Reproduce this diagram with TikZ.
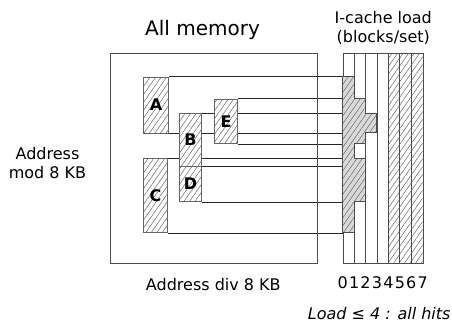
\documentclass[tikz,border=0pt]{standalone}
\usepackage{fontspec}
\setmainfont{DejaVu Sans}
\usetikzlibrary{patterns.meta,backgrounds}
\begin{document}
\begin{tikzpicture}[x=1pt,y=-1pt,
  hatch/.style={pattern={Lines[angle=55,distance=4.5pt,line width=0.5pt]},pattern color=black!60},
  blk/.style={draw=black!60, line width=0.9pt, preaction={fill=white}, hatch,
    inner sep=0pt, anchor=north west, font=\fontsize{16}{16}\selectfont\bfseries},
  link/.style={draw=black!85, line width=0.9pt},
  frame/.style={draw=black!70, line width=0.9pt},
  lbl/.style={anchor=base, inner sep=0pt, font=\fontsize{16}{19}\selectfont},
]
\useasboundingbox (0,0) rectangle (452,323);

% titles and axis labels
\node[lbl, font=\fontsize{20}{24}\selectfont] (title) at (202.5,36) {All memory};
\node[lbl] (ctitle1) at (383.3,24) {I-cache load};
\node[lbl] (ctitle2) at (383.3,42.3) {(blocks/set)};
\node[lbl] (mod1) at (47.5,160) {Address};
\node[lbl] (mod2) at (47.5,178.3) {mod 8 KB};
\node[lbl] (div) at (213.3,290) {Address div 8 KB};
\node[lbl, anchor=base east, font=\fontsize{16}{19}\selectfont\itshape] (note) at (450.7,319.5) {Load ≤ 4 : all hits};

% memory frame
\node[frame, inner sep=0pt, anchor=north west, minimum width=207.8pt, minimum height=209.4pt] (mem) at (109.5,53.3) {};

% cache load grid: 7 columns
\def\cw{11.4286}
\path[hatch] (388,53.3) rectangle (422.7,262.7);
\node[frame, inner sep=0pt, anchor=north west, minimum width=80pt, minimum height=209.4pt] (cache) at (342.7,53.3) {};
\foreach \i in {1,...,6}
  \draw[frame] ([xshift=\i*\cw pt]cache.north west) -- ([xshift=\i*\cw pt]cache.south west);
\foreach \i in {0,...,7}
  \node[lbl] (n\i) at (342.7+\i*\cw,288.3) {\i};

% memory blocks
\node[blk, minimum width=24.4pt, minimum height=56pt]   (A) at (143.3,76.7)  {A};
\node[blk, minimum width=23.4pt, minimum height=74pt]   (C) at (143.3,158.3) {C};
\node[blk, minimum width=22.6pt, minimum height=52.7pt] (B) at (178.7,113.3) {B};
\node[blk, minimum width=22.6pt, minimum height=35.3pt] (D) at (178.7,166)   {D};
\node[blk, minimum width=23.3pt, minimum height=44.6pt] (E) at (214,98.7)    {E};

% block edges carried over to the cache
\begin{pgfonlayer}{background}
  \foreach \b in {A,B,C,D,E} {
    \draw[link] (\b.north east) -- (\b.north east -| cache.west);
    \draw[link] (\b.south east) -- (\b.south east -| cache.west);
  }
\end{pgfonlayer}

% resulting load profile
\draw[draw=black!70, line width=0.9pt, preaction={fill=black!15}, hatch]
  (342.7,76.7) -| (354,98.7) -| (365.3,113.3) -| (376.7,132.7) -| (365.3,143.3)
  -| (354,158.3) -| (365.3,201.3) -| (354,232.3) -| (342.7,76.7) -- cycle;
\end{tikzpicture}
\end{document}
